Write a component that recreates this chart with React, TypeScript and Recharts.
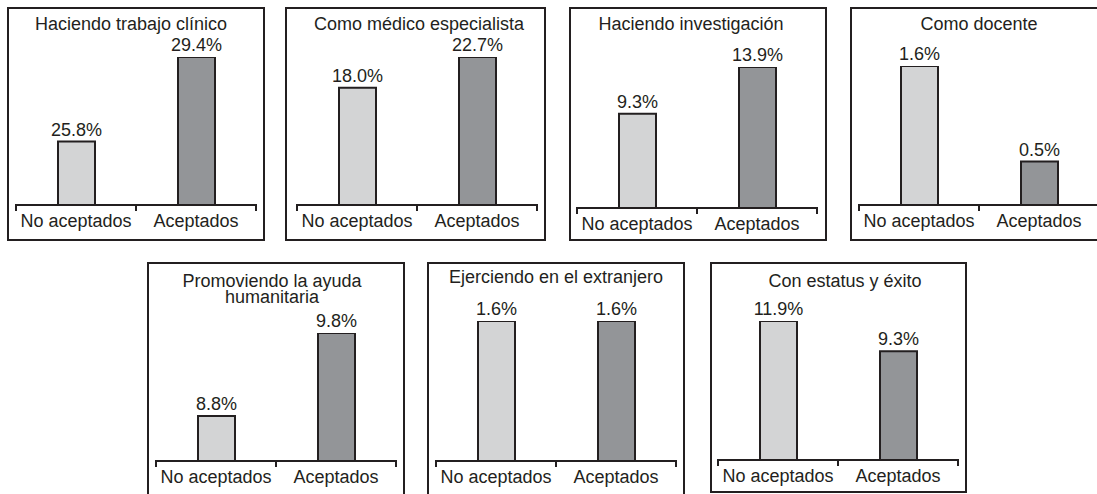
import React from 'react';
import { BarChart, Bar, XAxis, YAxis, Cell, LabelList } from 'recharts';

// Porcentaje de respuestas por motivo, aceptados vs. no aceptados
const titles = [
  'Haciendo trabajo clínico',
  'Como médico especialista',
  'Haciendo investigación',
  'Como docente',
  'Promoviendo la ayuda\nhumanitaria',
  'Ejerciendo en el extranjero',
  'Con estatus y éxito',
];
const categories = ['No aceptados', 'Aceptados'];
const noAceptados = [25.8, 18.0, 9.3, 1.6, 8.8, 1.6, 11.9];
const aceptados = [29.4, 22.7, 13.9, 0.5, 9.8, 1.6, 9.3];

const BAR_COLORS = ['#d3d4d5', '#939598'];
const INK = '#231f20';
const FONT = '"Liberation Sans", Arial, sans-serif';
const AXIS_W = 240;
const BAND = AXIS_W / categories.length;

// where each framed panel sits on the page (px). yMin: the original axes of
// two panels don't start at zero, so the bars there are cut off at the base.
const panels = [
  { left: 7, top: 7, w: 258, h: 234, axisLeft: 16, axisY: 205, plotTop: 57, titleY: 30, titleX: 131, yMin: 23.1 },
  { left: 285, top: 7, w: 261, h: 234, axisLeft: 297, axisY: 205, plotTop: 57, titleY: 30, titleX: 419, yMin: 0 },
  { left: 569, top: 7, w: 258, h: 234, axisLeft: 577, axisY: 208, plotTop: 67, titleY: 30, titleX: 691, yMin: 0 },
  { left: 850, top: 7, w: 258, h: 234, axisLeft: 859, axisY: 205, plotTop: 66, titleY: 30, titleX: 979, yMin: 0 },
  { left: 147, top: 262, w: 258, h: 240, axisLeft: 156, axisY: 461, plotTop: 333, titleY: 287, titleX: 272, yMin: 8.26 },
  { left: 427, top: 262, w: 258, h: 240, axisLeft: 436, axisY: 461, plotTop: 321, titleY: 283, titleX: 556, yMin: 0 },
  { left: 710, top: 262, w: 257, h: 231, axisLeft: 718, axisY: 460, plotTop: 321, titleY: 287, titleX: 845, yMin: 0 },
];

// category label plus the little downward ticks at the band edges
const CategoryTick = (props: any) => {
  const { x, y, payload, index } = props;
  const half = BAND / 2;
  const edges = index === categories.length - 1 ? [x - half, x + half] : [x - half];
  return (
    <g>
      {edges.map((ex) => (
        <path key={ex} d={`M${ex},${y - 1}V${y + 6}`} stroke={INK} strokeWidth={2} fill="none" />
      ))}
      <text x={x} y={y + 22} textAnchor="middle" fill={INK} fontSize={18} fontFamily={FONT}>
        {payload.value}
      </text>
    </g>
  );
};

function Panel({ i }: { i: number }) {
  const p = panels[i];
  const data = categories.map((name, k) => ({
    name,
    value: k === 0 ? noAceptados[i] : aceptados[i],
  }));
  const W = p.w - 4;
  const H = p.h - 4;
  const mTop = p.plotTop - (p.top + 2);
  const mLeft = p.axisLeft - (p.left + 2);
  const plotH = p.axisY - p.plotTop;
  const yMax = Math.max(...data.map((d) => d.value));

  return (
    <div
      style={{
        position: 'absolute',
        left: p.left,
        top: p.top,
        width: p.w,
        height: p.h,
        border: `2px solid ${INK}`,
        boxSizing: 'border-box',
        background: '#fff',
      }}
    >
      <div
        style={{
          position: 'absolute',
          left: p.titleX - p.left - 2 - 150,
          top: p.titleY - p.top - 2 - 14,
          width: 300,
          textAlign: 'center',
          fontFamily: FONT,
          fontSize: 18,
          lineHeight: '16px',
          color: INK,
          whiteSpace: 'pre-line',
        }}
      >
        {titles[i]}
      </div>
      <BarChart
        width={W}
        height={H}
        data={data}
        margin={{ top: mTop, left: mLeft, right: W - mLeft - AXIS_W, bottom: 0 }}
      >
        <YAxis hide domain={[p.yMin, yMax]} allowDataOverflow />
        <Bar dataKey="value" barSize={37} stroke={INK} strokeWidth={2} isAnimationActive={false}>
          {data.map((d, k) => (
            <Cell key={d.name} fill={BAR_COLORS[k]} />
          ))}
          <LabelList
            dataKey="value"
            position="top"
            offset={6}
            fill={INK}
            fontSize={18}
            fontFamily={FONT}
            formatter={(v: any) => `${Number(v).toFixed(1)}%`}
          />
        </Bar>
        <XAxis
          dataKey="name"
          height={H - mTop - plotH}
          axisLine={{ stroke: INK, strokeWidth: 2 }}
          tickLine={false}
          tickSize={0}
          tickMargin={0}
          interval={0}
          tick={<CategoryTick />}
        />
      </BarChart>
    </div>
  );
}

export default function App() {
  return (
    <div
      style={{
        position: 'absolute',
        left: 0,
        top: 0,
        width: 1097,
        height: 494,
        overflow: 'hidden',
        background: '#fff',
      }}
    >
      {titles.map((t, i) => (
        <Panel key={t} i={i} />
      ))}
    </div>
  );
}
